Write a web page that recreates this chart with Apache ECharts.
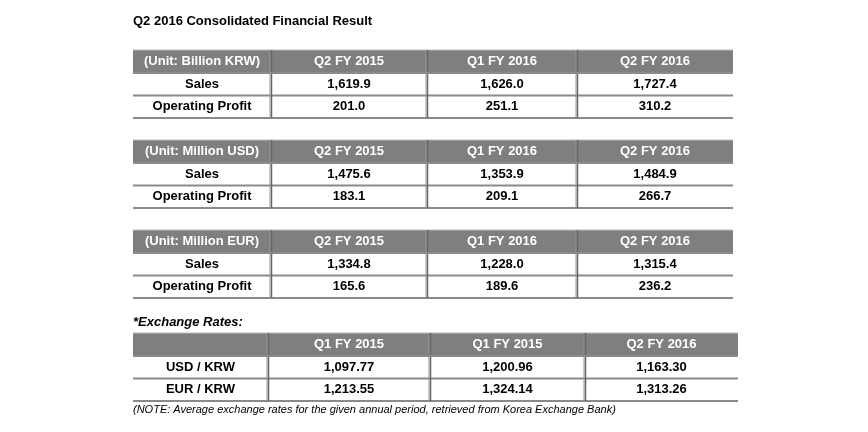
<!DOCTYPE html>
<html><head><meta charset="utf-8">
<script src="https://cdn.jsdelivr.net/npm/echarts@6/dist/echarts.min.js"></script>
<style>html,body{margin:0;background:#fff}#c{width:868px;height:432px}</style>
</head><body><div id="c"></div>
<script>
const title = "Q2 2016 Consolidated Financial Result";
const periods = ["Q2 FY 2015", "Q1 FY 2016", "Q2 FY 2016"];
const rowLabels = ["Sales", "Operating Profit"];
const krwUnit = "(Unit: Billion KRW)";
const krwValues = [["1,619.9", "1,626.0", "1,727.4"], ["201.0", "251.1", "310.2"]];
const usdUnit = "(Unit: Million USD)";
const usdValues = [["1,475.6", "1,353.9", "1,484.9"], ["183.1", "209.1", "266.7"]];
const eurUnit = "(Unit: Million EUR)";
const eurValues = [["1,334.8", "1,228.0", "1,315.4"], ["165.6", "189.6", "236.2"]];
const fxTitle = "*Exchange Rates:";
const fxPeriods = ["Q1 FY 2015", "Q1 FY 2015", "Q2 FY 2016"];
const fxLabels = ["USD / KRW", "EUR / KRW"];
const fxValues = [["1,097.77", "1,200.96", "1,163.30"], ["1,213.55", "1,324.14", "1,313.26"]];
const note = "(NOTE: Average exchange rates for the given annual period, retrieved from Korea Exchange Bank)";

const F = 'Liberation Sans, Arial, sans-serif';
const els = [];
function txt(x, y, s, o) {
  els.push({type:'text', x, y, style:Object.assign({text:s, font:'bold 13px '+F, fill:'#000', textAlign:'center', textVerticalAlign:'middle'}, o||{})});
}
function rect(x,y,w,h,fill){els.push({type:'rect',shape:{x,y,width:w,height:h},style:{fill}});}
function line(x1,y1,x2,y2,c,w){els.push({type:'line',shape:{x1,y1,x2,y2},style:{stroke:c,lineWidth:w}});}

function table(top, cols, head, labels, vals) {
  const hh = 23, rh = 22.5;
  const L = cols[0], R = cols[cols.length-1];
  rect(L, top, R-L, hh, '#7f7f7f');
  line(L, top, R, top, '#bbb', 1);
  for (let i = 0; i < head.length; i++) {
    txt((cols[i]+cols[i+1])/2, top+hh/2, head[i], {fill:'#fff'});
  }
  for (let r = 0; r < labels.length; r++) {
    const y = top + hh + r*rh;
    const row = [labels[r]].concat(vals[r]);
    for (let i = 0; i < row.length; i++) txt((cols[i]+cols[i+1])/2, y+rh/2, row[i]);
    line(L, y+rh, R, y+rh, '#8a8a8a', 2);
  }
  const bottom = top + hh + labels.length*rh;
  for (let i = 1; i < cols.length-1; i++) {
    line(cols[i]-1, top, cols[i]-1, bottom, '#999', 1);
    line(cols[i]+0.5, top, cols[i]+0.5, bottom, '#666', 1.5);
  }
  line(L, top+hh, R, top+hh, '#8a8a8a', 2);
}

txt(133, 21, title, {textAlign:'left'});
const c1 = [133, 271, 427, 577, 733];
table(50, c1, [krwUnit].concat(periods), rowLabels, krwValues);
table(140, c1, [usdUnit].concat(periods), rowLabels, usdValues);
table(230, c1, [eurUnit].concat(periods), rowLabels, eurValues);
txt(133, 322, fxTitle, {textAlign:'left', font:'italic bold 13px '+F});
table(333, [133, 268, 430, 585, 738], [''].concat(fxPeriods), fxLabels, fxValues);
txt(133, 410, note, {textAlign:'left', font:'italic 11px '+F});

const chart = echarts.init(document.getElementById('c'));
chart.setOption({animation:false, graphic:{elements:els}});
</script></body></html>
